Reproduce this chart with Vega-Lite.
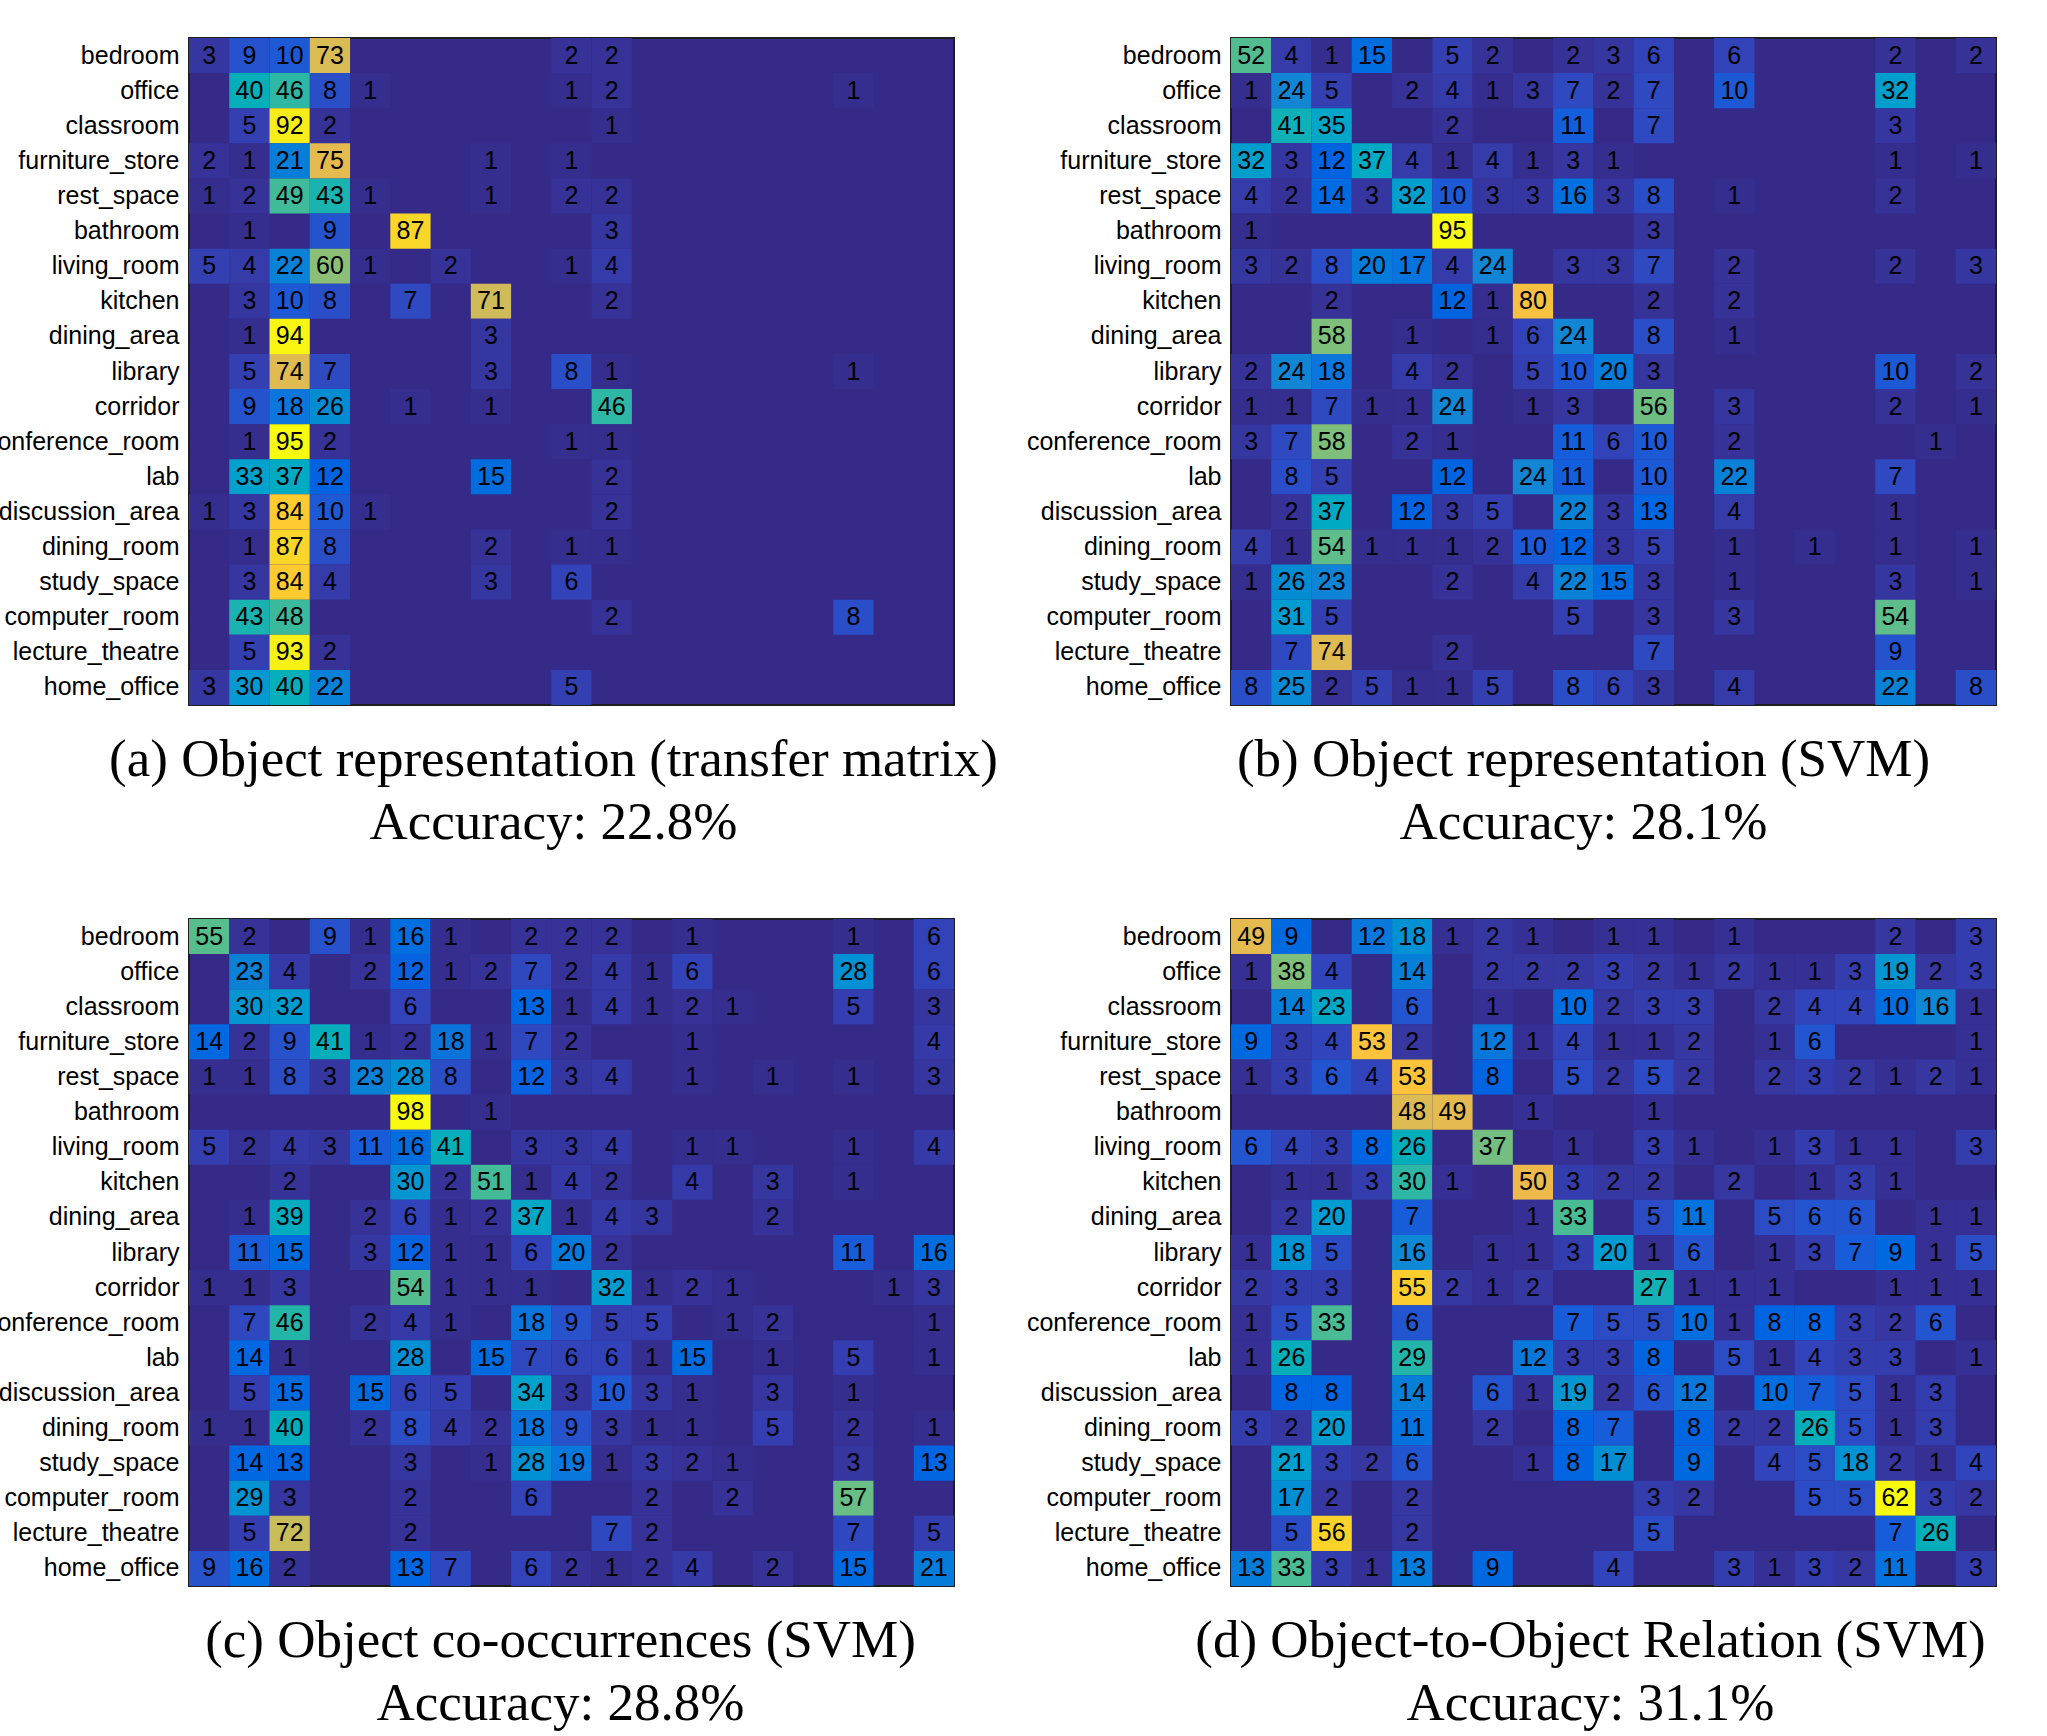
{
  "$schema": "https://vega.github.io/schema/vega-lite/v6.json",
  "padding": {"left": -17, "top": 37, "right": 10, "bottom": 10},
  "background": "white",
  "bounds": "flush",
  "columns": 2,
  "spacing": {"row": 214, "column": 277},
  "resolve": {"scale": {"color": "independent"}},
  "datasets": {
    "a": [
      {"r":"bedroom","c":0,"v":3},{"r":"bedroom","c":1,"v":9},{"r":"bedroom","c":2,"v":10},{"r":"bedroom","c":3,"v":73},{"r":"bedroom","c":9,"v":2},{"r":"bedroom","c":10,"v":2},
      {"r":"office","c":1,"v":40},{"r":"office","c":2,"v":46},{"r":"office","c":3,"v":8},{"r":"office","c":4,"v":1},{"r":"office","c":9,"v":1},{"r":"office","c":10,"v":2},{"r":"office","c":16,"v":1},
      {"r":"classroom","c":1,"v":5},{"r":"classroom","c":2,"v":92},{"r":"classroom","c":3,"v":2},{"r":"classroom","c":10,"v":1},
      {"r":"furniture_store","c":0,"v":2},{"r":"furniture_store","c":1,"v":1},{"r":"furniture_store","c":2,"v":21},{"r":"furniture_store","c":3,"v":75},{"r":"furniture_store","c":7,"v":1},{"r":"furniture_store","c":9,"v":1},
      {"r":"rest_space","c":0,"v":1},{"r":"rest_space","c":1,"v":2},{"r":"rest_space","c":2,"v":49},{"r":"rest_space","c":3,"v":43},{"r":"rest_space","c":4,"v":1},{"r":"rest_space","c":7,"v":1},{"r":"rest_space","c":9,"v":2},{"r":"rest_space","c":10,"v":2},
      {"r":"bathroom","c":1,"v":1},{"r":"bathroom","c":3,"v":9},{"r":"bathroom","c":5,"v":87},{"r":"bathroom","c":10,"v":3},
      {"r":"living_room","c":0,"v":5},{"r":"living_room","c":1,"v":4},{"r":"living_room","c":2,"v":22},{"r":"living_room","c":3,"v":60},{"r":"living_room","c":4,"v":1},{"r":"living_room","c":6,"v":2},{"r":"living_room","c":9,"v":1},{"r":"living_room","c":10,"v":4},
      {"r":"kitchen","c":1,"v":3},{"r":"kitchen","c":2,"v":10},{"r":"kitchen","c":3,"v":8},{"r":"kitchen","c":5,"v":7},{"r":"kitchen","c":7,"v":71},{"r":"kitchen","c":10,"v":2},
      {"r":"dining_area","c":1,"v":1},{"r":"dining_area","c":2,"v":94},{"r":"dining_area","c":7,"v":3},
      {"r":"library","c":1,"v":5},{"r":"library","c":2,"v":74},{"r":"library","c":3,"v":7},{"r":"library","c":7,"v":3},{"r":"library","c":9,"v":8},{"r":"library","c":10,"v":1},{"r":"library","c":16,"v":1},
      {"r":"corridor","c":1,"v":9},{"r":"corridor","c":2,"v":18},{"r":"corridor","c":3,"v":26},{"r":"corridor","c":5,"v":1},{"r":"corridor","c":7,"v":1},{"r":"corridor","c":10,"v":46},
      {"r":"conference_room","c":1,"v":1},{"r":"conference_room","c":2,"v":95},{"r":"conference_room","c":3,"v":2},{"r":"conference_room","c":9,"v":1},{"r":"conference_room","c":10,"v":1},
      {"r":"lab","c":1,"v":33},{"r":"lab","c":2,"v":37},{"r":"lab","c":3,"v":12},{"r":"lab","c":7,"v":15},{"r":"lab","c":10,"v":2},
      {"r":"discussion_area","c":0,"v":1},{"r":"discussion_area","c":1,"v":3},{"r":"discussion_area","c":2,"v":84},{"r":"discussion_area","c":3,"v":10},{"r":"discussion_area","c":4,"v":1},{"r":"discussion_area","c":10,"v":2},
      {"r":"dining_room","c":1,"v":1},{"r":"dining_room","c":2,"v":87},{"r":"dining_room","c":3,"v":8},{"r":"dining_room","c":7,"v":2},{"r":"dining_room","c":9,"v":1},{"r":"dining_room","c":10,"v":1},
      {"r":"study_space","c":1,"v":3},{"r":"study_space","c":2,"v":84},{"r":"study_space","c":3,"v":4},{"r":"study_space","c":7,"v":3},{"r":"study_space","c":9,"v":6},
      {"r":"computer_room","c":1,"v":43},{"r":"computer_room","c":2,"v":48},{"r":"computer_room","c":10,"v":2},{"r":"computer_room","c":16,"v":8},
      {"r":"lecture_theatre","c":1,"v":5},{"r":"lecture_theatre","c":2,"v":93},{"r":"lecture_theatre","c":3,"v":2},
      {"r":"home_office","c":0,"v":3},{"r":"home_office","c":1,"v":30},{"r":"home_office","c":2,"v":40},{"r":"home_office","c":3,"v":22},{"r":"home_office","c":9,"v":5}
    ],
    "b": [
      {"r":"bedroom","c":0,"v":52},{"r":"bedroom","c":1,"v":4},{"r":"bedroom","c":2,"v":1},{"r":"bedroom","c":3,"v":15},{"r":"bedroom","c":5,"v":5},{"r":"bedroom","c":6,"v":2},{"r":"bedroom","c":8,"v":2},{"r":"bedroom","c":9,"v":3},{"r":"bedroom","c":10,"v":6},{"r":"bedroom","c":12,"v":6},{"r":"bedroom","c":16,"v":2},{"r":"bedroom","c":18,"v":2},
      {"r":"office","c":0,"v":1},{"r":"office","c":1,"v":24},{"r":"office","c":2,"v":5},{"r":"office","c":4,"v":2},{"r":"office","c":5,"v":4},{"r":"office","c":6,"v":1},{"r":"office","c":7,"v":3},{"r":"office","c":8,"v":7},{"r":"office","c":9,"v":2},{"r":"office","c":10,"v":7},{"r":"office","c":12,"v":10},{"r":"office","c":16,"v":32},
      {"r":"classroom","c":1,"v":41},{"r":"classroom","c":2,"v":35},{"r":"classroom","c":5,"v":2},{"r":"classroom","c":8,"v":11},{"r":"classroom","c":10,"v":7},{"r":"classroom","c":16,"v":3},
      {"r":"furniture_store","c":0,"v":32},{"r":"furniture_store","c":1,"v":3},{"r":"furniture_store","c":2,"v":12},{"r":"furniture_store","c":3,"v":37},{"r":"furniture_store","c":4,"v":4},{"r":"furniture_store","c":5,"v":1},{"r":"furniture_store","c":6,"v":4},{"r":"furniture_store","c":7,"v":1},{"r":"furniture_store","c":8,"v":3},{"r":"furniture_store","c":9,"v":1},{"r":"furniture_store","c":16,"v":1},{"r":"furniture_store","c":18,"v":1},
      {"r":"rest_space","c":0,"v":4},{"r":"rest_space","c":1,"v":2},{"r":"rest_space","c":2,"v":14},{"r":"rest_space","c":3,"v":3},{"r":"rest_space","c":4,"v":32},{"r":"rest_space","c":5,"v":10},{"r":"rest_space","c":6,"v":3},{"r":"rest_space","c":7,"v":3},{"r":"rest_space","c":8,"v":16},{"r":"rest_space","c":9,"v":3},{"r":"rest_space","c":10,"v":8},{"r":"rest_space","c":12,"v":1},{"r":"rest_space","c":16,"v":2},
      {"r":"bathroom","c":0,"v":1},{"r":"bathroom","c":5,"v":95},{"r":"bathroom","c":10,"v":3},
      {"r":"living_room","c":0,"v":3},{"r":"living_room","c":1,"v":2},{"r":"living_room","c":2,"v":8},{"r":"living_room","c":3,"v":20},{"r":"living_room","c":4,"v":17},{"r":"living_room","c":5,"v":4},{"r":"living_room","c":6,"v":24},{"r":"living_room","c":8,"v":3},{"r":"living_room","c":9,"v":3},{"r":"living_room","c":10,"v":7},{"r":"living_room","c":12,"v":2},{"r":"living_room","c":16,"v":2},{"r":"living_room","c":18,"v":3},
      {"r":"kitchen","c":2,"v":2},{"r":"kitchen","c":5,"v":12},{"r":"kitchen","c":6,"v":1},{"r":"kitchen","c":7,"v":80},{"r":"kitchen","c":10,"v":2},{"r":"kitchen","c":12,"v":2},
      {"r":"dining_area","c":2,"v":58},{"r":"dining_area","c":4,"v":1},{"r":"dining_area","c":6,"v":1},{"r":"dining_area","c":7,"v":6},{"r":"dining_area","c":8,"v":24},{"r":"dining_area","c":10,"v":8},{"r":"dining_area","c":12,"v":1},
      {"r":"library","c":0,"v":2},{"r":"library","c":1,"v":24},{"r":"library","c":2,"v":18},{"r":"library","c":4,"v":4},{"r":"library","c":5,"v":2},{"r":"library","c":7,"v":5},{"r":"library","c":8,"v":10},{"r":"library","c":9,"v":20},{"r":"library","c":10,"v":3},{"r":"library","c":16,"v":10},{"r":"library","c":18,"v":2},
      {"r":"corridor","c":0,"v":1},{"r":"corridor","c":1,"v":1},{"r":"corridor","c":2,"v":7},{"r":"corridor","c":3,"v":1},{"r":"corridor","c":4,"v":1},{"r":"corridor","c":5,"v":24},{"r":"corridor","c":7,"v":1},{"r":"corridor","c":8,"v":3},{"r":"corridor","c":10,"v":56},{"r":"corridor","c":12,"v":3},{"r":"corridor","c":16,"v":2},{"r":"corridor","c":18,"v":1},
      {"r":"conference_room","c":0,"v":3},{"r":"conference_room","c":1,"v":7},{"r":"conference_room","c":2,"v":58},{"r":"conference_room","c":4,"v":2},{"r":"conference_room","c":5,"v":1},{"r":"conference_room","c":8,"v":11},{"r":"conference_room","c":9,"v":6},{"r":"conference_room","c":10,"v":10},{"r":"conference_room","c":12,"v":2},{"r":"conference_room","c":17,"v":1},
      {"r":"lab","c":1,"v":8},{"r":"lab","c":2,"v":5},{"r":"lab","c":5,"v":12},{"r":"lab","c":7,"v":24},{"r":"lab","c":8,"v":11},{"r":"lab","c":10,"v":10},{"r":"lab","c":12,"v":22},{"r":"lab","c":16,"v":7},
      {"r":"discussion_area","c":1,"v":2},{"r":"discussion_area","c":2,"v":37},{"r":"discussion_area","c":4,"v":12},{"r":"discussion_area","c":5,"v":3},{"r":"discussion_area","c":6,"v":5},{"r":"discussion_area","c":8,"v":22},{"r":"discussion_area","c":9,"v":3},{"r":"discussion_area","c":10,"v":13},{"r":"discussion_area","c":12,"v":4},{"r":"discussion_area","c":16,"v":1},
      {"r":"dining_room","c":0,"v":4},{"r":"dining_room","c":1,"v":1},{"r":"dining_room","c":2,"v":54},{"r":"dining_room","c":3,"v":1},{"r":"dining_room","c":4,"v":1},{"r":"dining_room","c":5,"v":1},{"r":"dining_room","c":6,"v":2},{"r":"dining_room","c":7,"v":10},{"r":"dining_room","c":8,"v":12},{"r":"dining_room","c":9,"v":3},{"r":"dining_room","c":10,"v":5},{"r":"dining_room","c":12,"v":1},{"r":"dining_room","c":14,"v":1},{"r":"dining_room","c":16,"v":1},{"r":"dining_room","c":18,"v":1},
      {"r":"study_space","c":0,"v":1},{"r":"study_space","c":1,"v":26},{"r":"study_space","c":2,"v":23},{"r":"study_space","c":5,"v":2},{"r":"study_space","c":7,"v":4},{"r":"study_space","c":8,"v":22},{"r":"study_space","c":9,"v":15},{"r":"study_space","c":10,"v":3},{"r":"study_space","c":12,"v":1},{"r":"study_space","c":16,"v":3},{"r":"study_space","c":18,"v":1},
      {"r":"computer_room","c":1,"v":31},{"r":"computer_room","c":2,"v":5},{"r":"computer_room","c":8,"v":5},{"r":"computer_room","c":10,"v":3},{"r":"computer_room","c":12,"v":3},{"r":"computer_room","c":16,"v":54},
      {"r":"lecture_theatre","c":1,"v":7},{"r":"lecture_theatre","c":2,"v":74},{"r":"lecture_theatre","c":5,"v":2},{"r":"lecture_theatre","c":10,"v":7},{"r":"lecture_theatre","c":16,"v":9},
      {"r":"home_office","c":0,"v":8},{"r":"home_office","c":1,"v":25},{"r":"home_office","c":2,"v":2},{"r":"home_office","c":3,"v":5},{"r":"home_office","c":4,"v":1},{"r":"home_office","c":5,"v":1},{"r":"home_office","c":6,"v":5},{"r":"home_office","c":8,"v":8},{"r":"home_office","c":9,"v":6},{"r":"home_office","c":10,"v":3},{"r":"home_office","c":12,"v":4},{"r":"home_office","c":16,"v":22},{"r":"home_office","c":18,"v":8}
    ],
    "c": [
      {"r":"bedroom","c":0,"v":55},{"r":"bedroom","c":1,"v":2},{"r":"bedroom","c":3,"v":9},{"r":"bedroom","c":4,"v":1},{"r":"bedroom","c":5,"v":16},{"r":"bedroom","c":6,"v":1},{"r":"bedroom","c":8,"v":2},{"r":"bedroom","c":9,"v":2},{"r":"bedroom","c":10,"v":2},{"r":"bedroom","c":12,"v":1},{"r":"bedroom","c":16,"v":1},{"r":"bedroom","c":18,"v":6},
      {"r":"office","c":1,"v":23},{"r":"office","c":2,"v":4},{"r":"office","c":4,"v":2},{"r":"office","c":5,"v":12},{"r":"office","c":6,"v":1},{"r":"office","c":7,"v":2},{"r":"office","c":8,"v":7},{"r":"office","c":9,"v":2},{"r":"office","c":10,"v":4},{"r":"office","c":11,"v":1},{"r":"office","c":12,"v":6},{"r":"office","c":16,"v":28},{"r":"office","c":18,"v":6},
      {"r":"classroom","c":1,"v":30},{"r":"classroom","c":2,"v":32},{"r":"classroom","c":5,"v":6},{"r":"classroom","c":8,"v":13},{"r":"classroom","c":9,"v":1},{"r":"classroom","c":10,"v":4},{"r":"classroom","c":11,"v":1},{"r":"classroom","c":12,"v":2},{"r":"classroom","c":13,"v":1},{"r":"classroom","c":16,"v":5},{"r":"classroom","c":18,"v":3},
      {"r":"furniture_store","c":0,"v":14},{"r":"furniture_store","c":1,"v":2},{"r":"furniture_store","c":2,"v":9},{"r":"furniture_store","c":3,"v":41},{"r":"furniture_store","c":4,"v":1},{"r":"furniture_store","c":5,"v":2},{"r":"furniture_store","c":6,"v":18},{"r":"furniture_store","c":7,"v":1},{"r":"furniture_store","c":8,"v":7},{"r":"furniture_store","c":9,"v":2},{"r":"furniture_store","c":12,"v":1},{"r":"furniture_store","c":18,"v":4},
      {"r":"rest_space","c":0,"v":1},{"r":"rest_space","c":1,"v":1},{"r":"rest_space","c":2,"v":8},{"r":"rest_space","c":3,"v":3},{"r":"rest_space","c":4,"v":23},{"r":"rest_space","c":5,"v":28},{"r":"rest_space","c":6,"v":8},{"r":"rest_space","c":8,"v":12},{"r":"rest_space","c":9,"v":3},{"r":"rest_space","c":10,"v":4},{"r":"rest_space","c":12,"v":1},{"r":"rest_space","c":14,"v":1},{"r":"rest_space","c":16,"v":1},{"r":"rest_space","c":18,"v":3},
      {"r":"bathroom","c":5,"v":98},{"r":"bathroom","c":7,"v":1},
      {"r":"living_room","c":0,"v":5},{"r":"living_room","c":1,"v":2},{"r":"living_room","c":2,"v":4},{"r":"living_room","c":3,"v":3},{"r":"living_room","c":4,"v":11},{"r":"living_room","c":5,"v":16},{"r":"living_room","c":6,"v":41},{"r":"living_room","c":8,"v":3},{"r":"living_room","c":9,"v":3},{"r":"living_room","c":10,"v":4},{"r":"living_room","c":12,"v":1},{"r":"living_room","c":13,"v":1},{"r":"living_room","c":16,"v":1},{"r":"living_room","c":18,"v":4},
      {"r":"kitchen","c":2,"v":2},{"r":"kitchen","c":5,"v":30},{"r":"kitchen","c":6,"v":2},{"r":"kitchen","c":7,"v":51},{"r":"kitchen","c":8,"v":1},{"r":"kitchen","c":9,"v":4},{"r":"kitchen","c":10,"v":2},{"r":"kitchen","c":12,"v":4},{"r":"kitchen","c":14,"v":3},{"r":"kitchen","c":16,"v":1},
      {"r":"dining_area","c":1,"v":1},{"r":"dining_area","c":2,"v":39},{"r":"dining_area","c":4,"v":2},{"r":"dining_area","c":5,"v":6},{"r":"dining_area","c":6,"v":1},{"r":"dining_area","c":7,"v":2},{"r":"dining_area","c":8,"v":37},{"r":"dining_area","c":9,"v":1},{"r":"dining_area","c":10,"v":4},{"r":"dining_area","c":11,"v":3},{"r":"dining_area","c":14,"v":2},
      {"r":"library","c":1,"v":11},{"r":"library","c":2,"v":15},{"r":"library","c":4,"v":3},{"r":"library","c":5,"v":12},{"r":"library","c":6,"v":1},{"r":"library","c":7,"v":1},{"r":"library","c":8,"v":6},{"r":"library","c":9,"v":20},{"r":"library","c":10,"v":2},{"r":"library","c":16,"v":11},{"r":"library","c":18,"v":16},
      {"r":"corridor","c":0,"v":1},{"r":"corridor","c":1,"v":1},{"r":"corridor","c":2,"v":3},{"r":"corridor","c":5,"v":54},{"r":"corridor","c":6,"v":1},{"r":"corridor","c":7,"v":1},{"r":"corridor","c":8,"v":1},{"r":"corridor","c":10,"v":32},{"r":"corridor","c":11,"v":1},{"r":"corridor","c":12,"v":2},{"r":"corridor","c":13,"v":1},{"r":"corridor","c":17,"v":1},{"r":"corridor","c":18,"v":3},
      {"r":"conference_room","c":1,"v":7},{"r":"conference_room","c":2,"v":46},{"r":"conference_room","c":4,"v":2},{"r":"conference_room","c":5,"v":4},{"r":"conference_room","c":6,"v":1},{"r":"conference_room","c":8,"v":18},{"r":"conference_room","c":9,"v":9},{"r":"conference_room","c":10,"v":5},{"r":"conference_room","c":11,"v":5},{"r":"conference_room","c":13,"v":1},{"r":"conference_room","c":14,"v":2},{"r":"conference_room","c":18,"v":1},
      {"r":"lab","c":1,"v":14},{"r":"lab","c":2,"v":1},{"r":"lab","c":5,"v":28},{"r":"lab","c":7,"v":15},{"r":"lab","c":8,"v":7},{"r":"lab","c":9,"v":6},{"r":"lab","c":10,"v":6},{"r":"lab","c":11,"v":1},{"r":"lab","c":12,"v":15},{"r":"lab","c":14,"v":1},{"r":"lab","c":16,"v":5},{"r":"lab","c":18,"v":1},
      {"r":"discussion_area","c":1,"v":5},{"r":"discussion_area","c":2,"v":15},{"r":"discussion_area","c":4,"v":15},{"r":"discussion_area","c":5,"v":6},{"r":"discussion_area","c":6,"v":5},{"r":"discussion_area","c":8,"v":34},{"r":"discussion_area","c":9,"v":3},{"r":"discussion_area","c":10,"v":10},{"r":"discussion_area","c":11,"v":3},{"r":"discussion_area","c":12,"v":1},{"r":"discussion_area","c":14,"v":3},{"r":"discussion_area","c":16,"v":1},
      {"r":"dining_room","c":0,"v":1},{"r":"dining_room","c":1,"v":1},{"r":"dining_room","c":2,"v":40},{"r":"dining_room","c":4,"v":2},{"r":"dining_room","c":5,"v":8},{"r":"dining_room","c":6,"v":4},{"r":"dining_room","c":7,"v":2},{"r":"dining_room","c":8,"v":18},{"r":"dining_room","c":9,"v":9},{"r":"dining_room","c":10,"v":3},{"r":"dining_room","c":11,"v":1},{"r":"dining_room","c":12,"v":1},{"r":"dining_room","c":14,"v":5},{"r":"dining_room","c":16,"v":2},{"r":"dining_room","c":18,"v":1},
      {"r":"study_space","c":1,"v":14},{"r":"study_space","c":2,"v":13},{"r":"study_space","c":5,"v":3},{"r":"study_space","c":7,"v":1},{"r":"study_space","c":8,"v":28},{"r":"study_space","c":9,"v":19},{"r":"study_space","c":10,"v":1},{"r":"study_space","c":11,"v":3},{"r":"study_space","c":12,"v":2},{"r":"study_space","c":13,"v":1},{"r":"study_space","c":16,"v":3},{"r":"study_space","c":18,"v":13},
      {"r":"computer_room","c":1,"v":29},{"r":"computer_room","c":2,"v":3},{"r":"computer_room","c":5,"v":2},{"r":"computer_room","c":8,"v":6},{"r":"computer_room","c":11,"v":2},{"r":"computer_room","c":13,"v":2},{"r":"computer_room","c":16,"v":57},
      {"r":"lecture_theatre","c":1,"v":5},{"r":"lecture_theatre","c":2,"v":72},{"r":"lecture_theatre","c":5,"v":2},{"r":"lecture_theatre","c":10,"v":7},{"r":"lecture_theatre","c":11,"v":2},{"r":"lecture_theatre","c":16,"v":7},{"r":"lecture_theatre","c":18,"v":5},
      {"r":"home_office","c":0,"v":9},{"r":"home_office","c":1,"v":16},{"r":"home_office","c":2,"v":2},{"r":"home_office","c":5,"v":13},{"r":"home_office","c":6,"v":7},{"r":"home_office","c":8,"v":6},{"r":"home_office","c":9,"v":2},{"r":"home_office","c":10,"v":1},{"r":"home_office","c":11,"v":2},{"r":"home_office","c":12,"v":4},{"r":"home_office","c":14,"v":2},{"r":"home_office","c":16,"v":15},{"r":"home_office","c":18,"v":21}
    ],
    "d": [
      {"r":"bedroom","c":0,"v":49},{"r":"bedroom","c":1,"v":9},{"r":"bedroom","c":3,"v":12},{"r":"bedroom","c":4,"v":18},{"r":"bedroom","c":5,"v":1},{"r":"bedroom","c":6,"v":2},{"r":"bedroom","c":7,"v":1},{"r":"bedroom","c":9,"v":1},{"r":"bedroom","c":10,"v":1},{"r":"bedroom","c":12,"v":1},{"r":"bedroom","c":16,"v":2},{"r":"bedroom","c":18,"v":3},
      {"r":"office","c":0,"v":1},{"r":"office","c":1,"v":38},{"r":"office","c":2,"v":4},{"r":"office","c":4,"v":14},{"r":"office","c":6,"v":2},{"r":"office","c":7,"v":2},{"r":"office","c":8,"v":2},{"r":"office","c":9,"v":3},{"r":"office","c":10,"v":2},{"r":"office","c":11,"v":1},{"r":"office","c":12,"v":2},{"r":"office","c":13,"v":1},{"r":"office","c":14,"v":1},{"r":"office","c":15,"v":3},{"r":"office","c":16,"v":19},{"r":"office","c":17,"v":2},{"r":"office","c":18,"v":3},
      {"r":"classroom","c":1,"v":14},{"r":"classroom","c":2,"v":23},{"r":"classroom","c":4,"v":6},{"r":"classroom","c":6,"v":1},{"r":"classroom","c":8,"v":10},{"r":"classroom","c":9,"v":2},{"r":"classroom","c":10,"v":3},{"r":"classroom","c":11,"v":3},{"r":"classroom","c":13,"v":2},{"r":"classroom","c":14,"v":4},{"r":"classroom","c":15,"v":4},{"r":"classroom","c":16,"v":10},{"r":"classroom","c":17,"v":16},{"r":"classroom","c":18,"v":1},
      {"r":"furniture_store","c":0,"v":9},{"r":"furniture_store","c":1,"v":3},{"r":"furniture_store","c":2,"v":4},{"r":"furniture_store","c":3,"v":53},{"r":"furniture_store","c":4,"v":2},{"r":"furniture_store","c":6,"v":12},{"r":"furniture_store","c":7,"v":1},{"r":"furniture_store","c":8,"v":4},{"r":"furniture_store","c":9,"v":1},{"r":"furniture_store","c":10,"v":1},{"r":"furniture_store","c":11,"v":2},{"r":"furniture_store","c":13,"v":1},{"r":"furniture_store","c":14,"v":6},{"r":"furniture_store","c":18,"v":1},
      {"r":"rest_space","c":0,"v":1},{"r":"rest_space","c":1,"v":3},{"r":"rest_space","c":2,"v":6},{"r":"rest_space","c":3,"v":4},{"r":"rest_space","c":4,"v":53},{"r":"rest_space","c":6,"v":8},{"r":"rest_space","c":8,"v":5},{"r":"rest_space","c":9,"v":2},{"r":"rest_space","c":10,"v":5},{"r":"rest_space","c":11,"v":2},{"r":"rest_space","c":13,"v":2},{"r":"rest_space","c":14,"v":3},{"r":"rest_space","c":15,"v":2},{"r":"rest_space","c":16,"v":1},{"r":"rest_space","c":17,"v":2},{"r":"rest_space","c":18,"v":1},
      {"r":"bathroom","c":4,"v":48},{"r":"bathroom","c":5,"v":49},{"r":"bathroom","c":7,"v":1},{"r":"bathroom","c":10,"v":1},
      {"r":"living_room","c":0,"v":6},{"r":"living_room","c":1,"v":4},{"r":"living_room","c":2,"v":3},{"r":"living_room","c":3,"v":8},{"r":"living_room","c":4,"v":26},{"r":"living_room","c":6,"v":37},{"r":"living_room","c":8,"v":1},{"r":"living_room","c":10,"v":3},{"r":"living_room","c":11,"v":1},{"r":"living_room","c":13,"v":1},{"r":"living_room","c":14,"v":3},{"r":"living_room","c":15,"v":1},{"r":"living_room","c":16,"v":1},{"r":"living_room","c":18,"v":3},
      {"r":"kitchen","c":1,"v":1},{"r":"kitchen","c":2,"v":1},{"r":"kitchen","c":3,"v":3},{"r":"kitchen","c":4,"v":30},{"r":"kitchen","c":5,"v":1},{"r":"kitchen","c":7,"v":50},{"r":"kitchen","c":8,"v":3},{"r":"kitchen","c":9,"v":2},{"r":"kitchen","c":10,"v":2},{"r":"kitchen","c":12,"v":2},{"r":"kitchen","c":14,"v":1},{"r":"kitchen","c":15,"v":3},{"r":"kitchen","c":16,"v":1},
      {"r":"dining_area","c":1,"v":2},{"r":"dining_area","c":2,"v":20},{"r":"dining_area","c":4,"v":7},{"r":"dining_area","c":7,"v":1},{"r":"dining_area","c":8,"v":33},{"r":"dining_area","c":10,"v":5},{"r":"dining_area","c":11,"v":11},{"r":"dining_area","c":13,"v":5},{"r":"dining_area","c":14,"v":6},{"r":"dining_area","c":15,"v":6},{"r":"dining_area","c":17,"v":1},{"r":"dining_area","c":18,"v":1},
      {"r":"library","c":0,"v":1},{"r":"library","c":1,"v":18},{"r":"library","c":2,"v":5},{"r":"library","c":4,"v":16},{"r":"library","c":6,"v":1},{"r":"library","c":7,"v":1},{"r":"library","c":8,"v":3},{"r":"library","c":9,"v":20},{"r":"library","c":10,"v":1},{"r":"library","c":11,"v":6},{"r":"library","c":13,"v":1},{"r":"library","c":14,"v":3},{"r":"library","c":15,"v":7},{"r":"library","c":16,"v":9},{"r":"library","c":17,"v":1},{"r":"library","c":18,"v":5},
      {"r":"corridor","c":0,"v":2},{"r":"corridor","c":1,"v":3},{"r":"corridor","c":2,"v":3},{"r":"corridor","c":4,"v":55},{"r":"corridor","c":5,"v":2},{"r":"corridor","c":6,"v":1},{"r":"corridor","c":7,"v":2},{"r":"corridor","c":10,"v":27},{"r":"corridor","c":11,"v":1},{"r":"corridor","c":12,"v":1},{"r":"corridor","c":13,"v":1},{"r":"corridor","c":16,"v":1},{"r":"corridor","c":17,"v":1},{"r":"corridor","c":18,"v":1},
      {"r":"conference_room","c":0,"v":1},{"r":"conference_room","c":1,"v":5},{"r":"conference_room","c":2,"v":33},{"r":"conference_room","c":4,"v":6},{"r":"conference_room","c":8,"v":7},{"r":"conference_room","c":9,"v":5},{"r":"conference_room","c":10,"v":5},{"r":"conference_room","c":11,"v":10},{"r":"conference_room","c":12,"v":1},{"r":"conference_room","c":13,"v":8},{"r":"conference_room","c":14,"v":8},{"r":"conference_room","c":15,"v":3},{"r":"conference_room","c":16,"v":2},{"r":"conference_room","c":17,"v":6},
      {"r":"lab","c":0,"v":1},{"r":"lab","c":1,"v":26},{"r":"lab","c":4,"v":29},{"r":"lab","c":7,"v":12},{"r":"lab","c":8,"v":3},{"r":"lab","c":9,"v":3},{"r":"lab","c":10,"v":8},{"r":"lab","c":12,"v":5},{"r":"lab","c":13,"v":1},{"r":"lab","c":14,"v":4},{"r":"lab","c":15,"v":3},{"r":"lab","c":16,"v":3},{"r":"lab","c":18,"v":1},
      {"r":"discussion_area","c":1,"v":8},{"r":"discussion_area","c":2,"v":8},{"r":"discussion_area","c":4,"v":14},{"r":"discussion_area","c":6,"v":6},{"r":"discussion_area","c":7,"v":1},{"r":"discussion_area","c":8,"v":19},{"r":"discussion_area","c":9,"v":2},{"r":"discussion_area","c":10,"v":6},{"r":"discussion_area","c":11,"v":12},{"r":"discussion_area","c":13,"v":10},{"r":"discussion_area","c":14,"v":7},{"r":"discussion_area","c":15,"v":5},{"r":"discussion_area","c":16,"v":1},{"r":"discussion_area","c":17,"v":3},
      {"r":"dining_room","c":0,"v":3},{"r":"dining_room","c":1,"v":2},{"r":"dining_room","c":2,"v":20},{"r":"dining_room","c":4,"v":11},{"r":"dining_room","c":6,"v":2},{"r":"dining_room","c":8,"v":8},{"r":"dining_room","c":9,"v":7},{"r":"dining_room","c":11,"v":8},{"r":"dining_room","c":12,"v":2},{"r":"dining_room","c":13,"v":2},{"r":"dining_room","c":14,"v":26},{"r":"dining_room","c":15,"v":5},{"r":"dining_room","c":16,"v":1},{"r":"dining_room","c":17,"v":3},
      {"r":"study_space","c":1,"v":21},{"r":"study_space","c":2,"v":3},{"r":"study_space","c":3,"v":2},{"r":"study_space","c":4,"v":6},{"r":"study_space","c":7,"v":1},{"r":"study_space","c":8,"v":8},{"r":"study_space","c":9,"v":17},{"r":"study_space","c":11,"v":9},{"r":"study_space","c":13,"v":4},{"r":"study_space","c":14,"v":5},{"r":"study_space","c":15,"v":18},{"r":"study_space","c":16,"v":2},{"r":"study_space","c":17,"v":1},{"r":"study_space","c":18,"v":4},
      {"r":"computer_room","c":1,"v":17},{"r":"computer_room","c":2,"v":2},{"r":"computer_room","c":4,"v":2},{"r":"computer_room","c":10,"v":3},{"r":"computer_room","c":11,"v":2},{"r":"computer_room","c":14,"v":5},{"r":"computer_room","c":15,"v":5},{"r":"computer_room","c":16,"v":62},{"r":"computer_room","c":17,"v":3},{"r":"computer_room","c":18,"v":2},
      {"r":"lecture_theatre","c":1,"v":5},{"r":"lecture_theatre","c":2,"v":56},{"r":"lecture_theatre","c":4,"v":2},{"r":"lecture_theatre","c":10,"v":5},{"r":"lecture_theatre","c":16,"v":7},{"r":"lecture_theatre","c":17,"v":26},
      {"r":"home_office","c":0,"v":13},{"r":"home_office","c":1,"v":33},{"r":"home_office","c":2,"v":3},{"r":"home_office","c":3,"v":1},{"r":"home_office","c":4,"v":13},{"r":"home_office","c":6,"v":9},{"r":"home_office","c":9,"v":4},{"r":"home_office","c":12,"v":3},{"r":"home_office","c":13,"v":1},{"r":"home_office","c":14,"v":3},{"r":"home_office","c":15,"v":2},{"r":"home_office","c":16,"v":11},{"r":"home_office","c":18,"v":3}
    ]
  },
  "concat": [
    {
      "data": {"name": "a"},
      "width": 765, "height": 667,
      "encoding": {
        "x": {"field": "c", "type": "ordinal", "scale": {"domain": [0,1,2,3,4,5,6,7,8,9,10,11,12,13,14,15,16,17,18], "paddingInner": 0, "paddingOuter": 0},
              "axis": {"title": ["(a) Object representation (transfer matrix)", "Accuracy: 22.8%"], "titleX": 364, "labels": false, "ticks": false, "domain": false}},
        "y": {"field": "r", "type": "nominal", "scale": {"domain": ["bedroom","office","classroom","furniture_store","rest_space","bathroom","living_room","kitchen","dining_area","library","corridor","conference_room","lab","discussion_area","dining_room","study_space","computer_room","lecture_theatre","home_office"], "paddingInner": 0, "paddingOuter": 0},
              "axis": {"title": null}}
      },
      "layer": [
        {"mark": {"type": "rect"}, "encoding": {"color": {"field": "v", "type": "quantitative", "legend": null, "scale": {"domainMin": 0, "range": ["#352a87","#3243ba","#0363e1","#0d75dc","#1485d4","#0998d1","#06a7c6","#15b1b4","#38b99e","#59bd8c","#87bf77","#aebe67","#d1bb59","#f1b94a","#fec832","#f5de21","#f9fb0e"]}}}},
        {"mark": {"type": "text", "font": "Liberation Sans, sans-serif", "fontSize": 25, "color": "black", "baseline": "middle", "align": "center"}, "encoding": {"text": {"field": "v", "type": "quantitative"}}}
      ]
    },
    {
      "data": {"name": "b"},
      "width": 765, "height": 667,
      "encoding": {
        "x": {"field": "c", "type": "ordinal", "scale": {"domain": [0,1,2,3,4,5,6,7,8,9,10,11,12,13,14,15,16,17,18], "paddingInner": 0, "paddingOuter": 0},
              "axis": {"title": ["(b) Object representation (SVM)", "Accuracy: 28.1%"], "titleX": 352, "labels": false, "ticks": false, "domain": false}},
        "y": {"field": "r", "type": "nominal", "scale": {"domain": ["bedroom","office","classroom","furniture_store","rest_space","bathroom","living_room","kitchen","dining_area","library","corridor","conference_room","lab","discussion_area","dining_room","study_space","computer_room","lecture_theatre","home_office"], "paddingInner": 0, "paddingOuter": 0},
              "axis": {"title": null}}
      },
      "layer": [
        {"mark": {"type": "rect"}, "encoding": {"color": {"field": "v", "type": "quantitative", "legend": null, "scale": {"domainMin": 0, "range": ["#352a87","#3243ba","#0363e1","#0d75dc","#1485d4","#0998d1","#06a7c6","#15b1b4","#38b99e","#59bd8c","#87bf77","#aebe67","#d1bb59","#f1b94a","#fec832","#f5de21","#f9fb0e"]}}}},
        {"mark": {"type": "text", "font": "Liberation Sans, sans-serif", "fontSize": 25, "color": "black", "baseline": "middle", "align": "center"}, "encoding": {"text": {"field": "v", "type": "quantitative"}}}
      ]
    },
    {
      "data": {"name": "c"},
      "width": 765, "height": 667,
      "encoding": {
        "x": {"field": "c", "type": "ordinal", "scale": {"domain": [0,1,2,3,4,5,6,7,8,9,10,11,12,13,14,15,16,17,18], "paddingInner": 0, "paddingOuter": 0},
              "axis": {"title": ["(c) Object co-occurrences (SVM)", "Accuracy: 28.8%"], "titleX": 371, "labels": false, "ticks": false, "domain": false}},
        "y": {"field": "r", "type": "nominal", "scale": {"domain": ["bedroom","office","classroom","furniture_store","rest_space","bathroom","living_room","kitchen","dining_area","library","corridor","conference_room","lab","discussion_area","dining_room","study_space","computer_room","lecture_theatre","home_office"], "paddingInner": 0, "paddingOuter": 0},
              "axis": {"title": null}}
      },
      "layer": [
        {"mark": {"type": "rect"}, "encoding": {"color": {"field": "v", "type": "quantitative", "legend": null, "scale": {"domainMin": 0, "range": ["#352a87","#3243ba","#0363e1","#0d75dc","#1485d4","#0998d1","#06a7c6","#15b1b4","#38b99e","#59bd8c","#87bf77","#aebe67","#d1bb59","#f1b94a","#fec832","#f5de21","#f9fb0e"]}}}},
        {"mark": {"type": "text", "font": "Liberation Sans, sans-serif", "fontSize": 25, "color": "black", "baseline": "middle", "align": "center"}, "encoding": {"text": {"field": "v", "type": "quantitative"}}}
      ]
    },
    {
      "data": {"name": "d"},
      "width": 765, "height": 667,
      "encoding": {
        "x": {"field": "c", "type": "ordinal", "scale": {"domain": [0,1,2,3,4,5,6,7,8,9,10,11,12,13,14,15,16,17,18], "paddingInner": 0, "paddingOuter": 0},
              "axis": {"title": ["(d) Object-to-Object Relation (SVM)", "Accuracy: 31.1%"], "titleX": 359, "labels": false, "ticks": false, "domain": false}},
        "y": {"field": "r", "type": "nominal", "scale": {"domain": ["bedroom","office","classroom","furniture_store","rest_space","bathroom","living_room","kitchen","dining_area","library","corridor","conference_room","lab","discussion_area","dining_room","study_space","computer_room","lecture_theatre","home_office"], "paddingInner": 0, "paddingOuter": 0},
              "axis": {"title": null}}
      },
      "layer": [
        {"mark": {"type": "rect"}, "encoding": {"color": {"field": "v", "type": "quantitative", "legend": null, "scale": {"domainMin": 0, "range": ["#352a87","#3243ba","#0363e1","#0d75dc","#1485d4","#0998d1","#06a7c6","#15b1b4","#38b99e","#59bd8c","#87bf77","#aebe67","#d1bb59","#f1b94a","#fec832","#f5de21","#f9fb0e"]}}}},
        {"mark": {"type": "text", "font": "Liberation Sans, sans-serif", "fontSize": 25, "color": "black", "baseline": "middle", "align": "center"}, "encoding": {"text": {"field": "v", "type": "quantitative"}}}
      ]
    }
  ],
  "config": {
    "view": {"fill": "#352a87", "stroke": "#1e1e1e", "strokeWidth": 2},
    "axis": {
      "labelFont": "Liberation Sans, sans-serif",
      "labelFontSize": 25,
      "labelColor": "black",
      "labelPadding": 10,
      "labelLimit": 400,
      "titleFont": "Liberation Serif",
      "titleFontSize": 53,
      "titleFontWeight": "normal",
      "titleColor": "black",
      "titleLineHeight": 63,
      "titleBaseline": "alphabetic",
      "titleAlign": "center",
      "titleY": 70
    },
    "axisY": {"ticks": false, "domain": false}
  }
}
